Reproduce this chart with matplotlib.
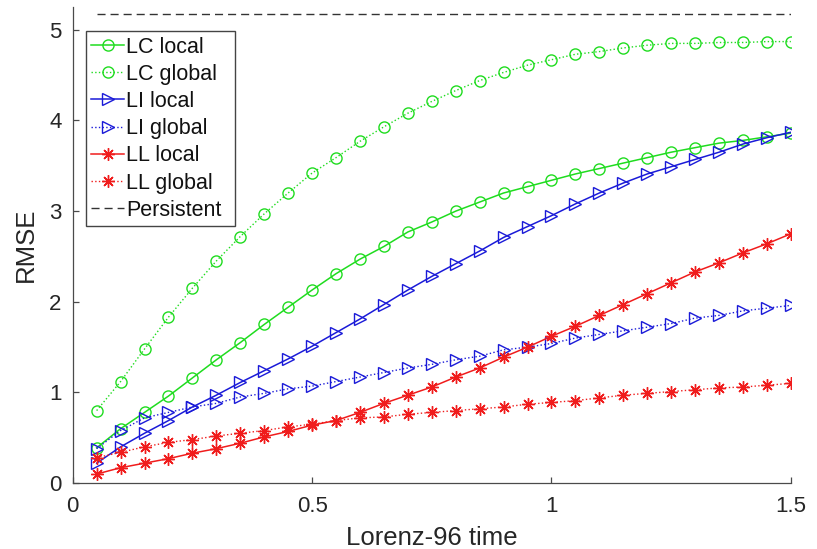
import matplotlib
matplotlib.use("Agg")
import matplotlib.pyplot as plt

plt.rcParams["font.family"] = ["Liberation Sans", "DejaVu Sans"]

# forecast lead times (Lorenz-96 time units)
times = [0.05, 0.10, 0.15, 0.20, 0.25, 0.30, 0.35, 0.40, 0.45, 0.50,
         0.55, 0.60, 0.65, 0.70, 0.75, 0.80, 0.85, 0.90, 0.95, 1.00,
         1.05, 1.10, 1.15, 1.20, 1.25, 1.30, 1.35, 1.40, 1.45, 1.50]

lc_local = [0.39, 0.60, 0.78, 0.96, 1.16, 1.36, 1.55, 1.75, 1.94, 2.13,
            2.31, 2.47, 2.61, 2.77, 2.88, 3.00, 3.10, 3.20, 3.27, 3.34,
            3.41, 3.47, 3.53, 3.59, 3.65, 3.70, 3.75, 3.78, 3.82, 3.86]
lc_global = [0.80, 1.12, 1.48, 1.83, 2.15, 2.45, 2.72, 2.97, 3.20, 3.42,
             3.59, 3.77, 3.93, 4.08, 4.21, 4.33, 4.44, 4.53, 4.61, 4.67,
             4.73, 4.76, 4.80, 4.83, 4.85, 4.85, 4.86, 4.86, 4.87, 4.87]
li_local = [0.22, 0.40, 0.55, 0.69, 0.84, 0.97, 1.11, 1.24, 1.37, 1.51,
            1.66, 1.81, 1.97, 2.13, 2.28, 2.42, 2.56, 2.71, 2.83, 2.95,
            3.08, 3.20, 3.31, 3.41, 3.49, 3.57, 3.65, 3.74, 3.81, 3.87]
li_global = [0.38, 0.58, 0.72, 0.78, 0.84, 0.88, 0.95, 0.99, 1.04, 1.07,
             1.12, 1.17, 1.22, 1.27, 1.31, 1.36, 1.40, 1.47, 1.50, 1.54,
             1.60, 1.64, 1.68, 1.72, 1.76, 1.82, 1.85, 1.90, 1.93, 1.96]
ll_local = [0.10, 0.17, 0.22, 0.27, 0.33, 0.38, 0.44, 0.51, 0.57, 0.64,
            0.69, 0.78, 0.88, 0.97, 1.06, 1.17, 1.27, 1.39, 1.50, 1.62,
            1.73, 1.85, 1.97, 2.09, 2.21, 2.33, 2.43, 2.54, 2.64, 2.75]
ll_global = [0.28, 0.34, 0.40, 0.45, 0.48, 0.52, 0.55, 0.58, 0.62, 0.65,
             0.69, 0.72, 0.73, 0.76, 0.78, 0.80, 0.82, 0.84, 0.87, 0.89,
             0.91, 0.94, 0.97, 0.99, 1.01, 1.03, 1.05, 1.06, 1.08, 1.10]
persistent = 5.17

GREEN = "#1fdc1f"
BLUE = "#1a1ad8"
RED = "#f01c1c"
AXC = "#4a4a4a"
TXT = "#262626"
STAR = (8, 2, 0)   # eight-armed asterisk

fig = plt.figure(figsize=(8.17, 5.49), dpi=100, facecolor="white")
ax = fig.add_axes([0.089, 0.120, 0.879, 0.867])

common = dict(markerfacecolor="none", markeredgewidth=1.0)
ax.plot(times, lc_local, "-", color=GREEN, lw=1.1, marker="o", ms=8,
        label="LC local", **common)
ax.plot(times, lc_global, ":", color=GREEN, lw=1.0, marker="o", ms=8,
        label="LC global", **common)
ax.plot(times, li_local, "-", color=BLUE, lw=1.1, marker=">", ms=8.5,
        label="LI local", **common)
ax.plot(times, li_global, ":", color=BLUE, lw=1.0, marker=">", ms=8.5,
        label="LI global", **common)
ax.plot(times, ll_local, "-", color=RED, lw=1.1, marker=STAR, ms=9,
        label="LL local", **common)
ax.plot(times, ll_global, ":", color=RED, lw=1.0, marker=STAR, ms=9,
        label="LL global", **common)
ax.plot(times, [persistent] * len(times), color="#333333", lw=1.0,
        dashes=(5.8, 3.6), label="Persistent")

ax.set_xlim(0, 1.5)
ax.set_ylim(0, 5.25)
ax.set_xticks([0, 0.5, 1, 1.5])
ax.set_xticklabels(["0", "0.5", "1", "1.5"])
ax.set_yticks([0, 1, 2, 3, 4, 5])

for side in ("top", "right"):
    ax.spines[side].set_visible(False)
for side in ("left", "bottom"):
    ax.spines[side].set_color(AXC)
    ax.spines[side].set_linewidth(0.9)
ax.tick_params(direction="in", length=4, width=0.9, color=AXC,
               labelsize=16, labelcolor=TXT)
ax.tick_params(axis="x", pad=9)
ax.tick_params(axis="y", pad=8)

ax.set_xlabel("Lorenz-96 time", fontsize=18.5, color=TXT, labelpad=7)
ax.set_ylabel("RMSE", fontsize=18.5, color=TXT, labelpad=8)

# legend box stretched to a fixed width, top-left corner just under the y=5 tick
leg = ax.legend(loc="upper left", bbox_to_anchor=(0.0185, 0.8496, 0.2075, 0.1),
                mode="expand", borderaxespad=0, fontsize=15.5,
                handlelength=1.5, handletextpad=0.1, labelspacing=0.29,
                borderpad=0.25, fancybox=False, framealpha=1)
leg.get_frame().set_edgecolor("#444444")
leg.get_frame().set_linewidth(1.0)
for t in leg.get_texts():
    t.set_color("#111111")

fig.savefig("out.png", dpi=100, facecolor="white")
